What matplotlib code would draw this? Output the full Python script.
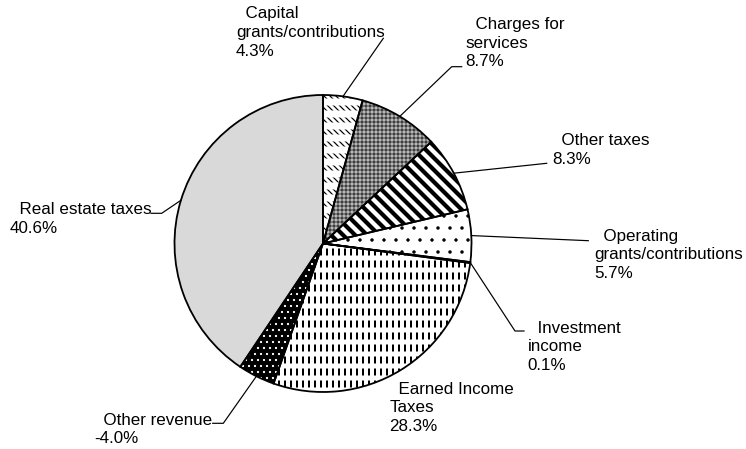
import numpy as np
import matplotlib
matplotlib.use("Agg")
from matplotlib import pyplot as plt
from matplotlib.patches import Wedge

# revenue shares (%), clockwise from 12 o'clock
labels = ["Capital\ngrants/contributions", "Charges for\nservices", "Other taxes",
          "Operating\ngrants/contributions", "Investment\nincome",
          "Earned Income\nTaxes", "Other revenue", "Real estate taxes"]
shares = [4.3, 8.7, 8.3, 5.7, 0.1, 28.3, -4.0, 40.6]

face = ["white", "#b8b8b8", "white", "white", "white", "white", "black", "#d9d9d9"]
hatch = ["\\\\\\\\", "+++", "\\\\", ".", "", "||", "..", ""]
hatch_col = ["black", "#202020", "black", "black", "black", "black", "white", "black"]
hatch_lw = [1.2, 0.8, 4.2, 1.0, 1.0, 2.0, 1.0, 1.0]

plt.rcParams['font.family'] = ['Liberation Sans', 'DejaVu Sans']

W, H = 746, 449
fig = plt.figure(figsize=(W / 72, H / 72), dpi=72)
ax = fig.add_axes([0, 0, 1, 1])

cx, cy, R = 323, H - 243.5, 148.5
sizes = [abs(s) for s in shares]

wedges, _ = ax.pie(sizes, startangle=90, counterclock=False, center=(cx, cy),
                   radius=R, wedgeprops=dict(linewidth=0))
for w, fc, ht, hc, hl in zip(wedges, face, hatch, hatch_col, hatch_lw):
    w.set_facecolor(fc)
    w.set_edgecolor(hc)
    w.set_hatch(ht)
    if hasattr(w, "set_hatch_linewidth"):
        w.set_hatch_linewidth(hl)

# white horizontal bands break the lines into dashes
for i, lw in [(0, 7.0), (5, 5.0)]:
    w = wedges[i]
    br = Wedge(w.center, w.r, w.theta1, w.theta2, facecolor="none",
               edgecolor="white", linewidth=0, hatch="-")
    if hasattr(br, "set_hatch_linewidth"):
        br.set_hatch_linewidth(lw)
    ax.add_patch(br)

# outlines
outl, _ = ax.pie(sizes, startangle=90, counterclock=False, center=(cx, cy),
                 radius=R, wedgeprops=dict(fill=False, edgecolor="black", linewidth=1.8))

# label layout (pixel coords from top-left): left x, centre y, leader bends
lab_pos = [(236, 32.5), (465.7, 43), (552.3, 150), (594.3, 255),
           (527.7, 346.7), (389.3, 408), (94, 429.5), (10, 219)]
leaders = [[(383.3, 38.3)],
           [(451.7, 66.7), (461.7, 66.7)],
           [(546.7, 163.3)],
           [(588.3, 240.7)],
           [(515, 331), (524, 331)],
           [],
           [(223.3, 423.3), (212.7, 423.3)],
           [(161.7, 213.3), (151, 213.3)]]

for w, lab, s, (lx, ly), pts in zip(wedges, labels, shares, lab_pos, leaders):
    txt = "  " + lab + "\n" + f"{s:.1f}%"
    ax.text(lx, H - ly, txt, ha="left", va="center", fontsize=17,
            linespacing=1.3, color="black")
    if pts:
        a = np.deg2rad((w.theta1 + w.theta2) / 2)
        xs = [cx + R * np.cos(a)] + [p[0] for p in pts]
        ys = [cy + R * np.sin(a)] + [H - p[1] for p in pts]
        ax.plot(xs, ys, color="black", linewidth=1.2)

ax.set_xlim(0, W)
ax.set_ylim(0, H)
ax.set_aspect("equal")
ax.axis("off")

fig.savefig("out.png", dpi=72)
